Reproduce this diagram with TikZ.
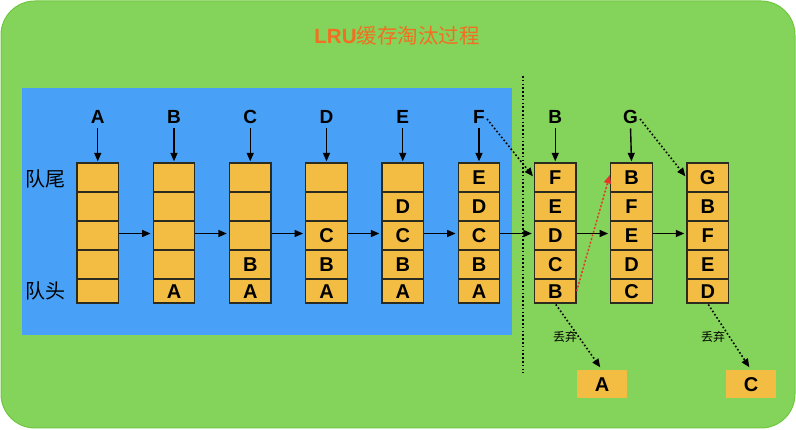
\documentclass[tikz,border=0pt]{standalone}
\usepackage{fontspec}
\setmainfont{Liberation Sans}
\newfontfamily\cjk{Noto Sans CJK SC}
\usetikzlibrary{arrows.meta}
\definecolor{bggreen}{HTML}{84D35A}
\definecolor{bgedge}{HTML}{6FC840}
\definecolor{qblue}{HTML}{48A1F6}
\definecolor{cellc}{HTML}{F2BD42}
\definecolor{titlec}{HTML}{F36E21}
\definecolor{celledge}{HTML}{2B2B20}
\definecolor{redarr}{HTML}{E8352B}
\begin{document}
\begin{tikzpicture}[x=1pt,y=-1pt,
  cellbox/.style={draw=celledge, line width=1.3pt, fill=cellc, minimum width=41.5pt,
    inner sep=0pt, text height=14.3pt, text depth=0pt,
    font=\fontsize{20}{20}\selectfont\bfseries},
  fullcell/.style={cellbox, minimum height=29pt},
  lastcell/.style={cellbox, minimum height=24pt},
  toplab/.style={inner sep=2pt, text height=13.6pt, text depth=0pt,
    font=\fontsize{19}{19}\selectfont\bfseries},
  sidelab/.style={inner sep=0pt, font=\fontsize{20}{20}\selectfont\cjk},
  droplab/.style={inner sep=0pt, font=\fontsize{12}{12}\selectfont\cjk},
  dropbox/.style={fill=cellc, minimum width=50pt, minimum height=28pt, inner sep=0pt,
    text height=14.3pt, text depth=0pt, font=\fontsize{20}{20}\selectfont\bfseries},
  arr/.style={line width=1.4pt, -{Triangle[length=8.5pt,width=7pt]}},
  dotarr/.style={line width=1.6pt, dash pattern=on 1.6pt off 2.2pt,
    -{Triangle[length=8.5pt,width=7pt]}},
]
\useasboundingbox (0,0) rectangle (796,430);
% backgrounds
\filldraw[fill=bggreen, draw=bgedge, line width=1pt, rounded corners=34pt] (1,1) rectangle (795,428);
\fill[qblue] (22,88) rectangle (512,335);
% title
\node[text=titlec, inner sep=0pt, font=\fontsize{20.5}{20.5}\selectfont] (title) at (397,36)
  {\textbf{LRU}{\cjk 缓存淘汰过程}};
% side labels
\node[sidelab] (tail) at (45,179) {队尾};
\node[sidelab] (head) at (45,291) {队头};
% columns
\foreach \col/\x/\a/\b/\c/\d/\e in {
  1/97.75/{}/{}/{}/{}/{},
  2/174/{}/{}/{}/{}/A,
  3/250.25/{}/{}/{}/B/A,
  4/326.5/{}/{}/C/B/A,
  5/402.75/{}/D/C/B/A,
  6/479/E/D/C/B/A,
  7/555.25/F/E/D/C/B,
  8/631.5/B/F/E/D/C,
  9/707.75/G/B/F/E/D}{
  \node[fullcell] (c\col-1) at (\x,177.5) {\a};
  \node[fullcell] (c\col-2) at (\x,206.5) {\b};
  \node[fullcell] (c\col-3) at (\x,235.5) {\c};
  \node[fullcell] (c\col-4) at (\x,264.5) {\d};
  \node[lastcell] (c\col-5) at (\x,291) {\e};
}
% top letters
\foreach \col/\x/\t in {1/97.75/A,2/174/B,3/250.25/C,4/326.5/D,5/402.75/E,6/479/F,7/555.25/B,8/630.5/G}{
  \node[toplab] (l\col) at (\x,117) {\t};
  \draw[arr, shorten <=2.5pt, shorten >=1pt] (l\col.south) -- (c\col-1.north);
}
% horizontal arrows
\foreach \i/\j in {1/2,2/3,3/4,4/5,5/6,6/7,7/8,8/9}{
  \draw[arr, shorten >=2pt] ([yshift=2pt]c\i-3.east) -- ([yshift=2pt]c\j-3.west);
}
% separator
\coordinate (vt) at (523,76);
\coordinate (vb) at (523,373);
\draw[line width=1.6pt, dash pattern=on 1.6pt off 2.2pt] (vt) -- (vb);
% dotted arrows of new entries
\draw[dotarr, shorten >=1.5pt] ([yshift=-2pt]l6.east) -- (c7-1.west);
\draw[dotarr, shorten >=1.5pt] ([yshift=-2pt]l8.east) -- (c9-1.west);
\draw[dotarr, draw=redarr, fill=redarr, shorten >=1pt] (c7-5.east) -- ([yshift=3.5pt]c8-1.west);
% discarded
\node[dropbox] (dA) at (602,384) {A};
\node[dropbox] (dC) at (751,384) {C};
\draw[dotarr, shorten <=1pt, shorten >=3pt] (c7-5.south) -- (dA.north);
\draw[dotarr, shorten <=1pt, shorten >=3pt] (c9-5.south) -- (dC.north);
\node[droplab] (drop1) at (565,337) {丢弃};
\node[droplab] (drop2) at (713,337) {丢弃};
\end{tikzpicture}
\end{document}
